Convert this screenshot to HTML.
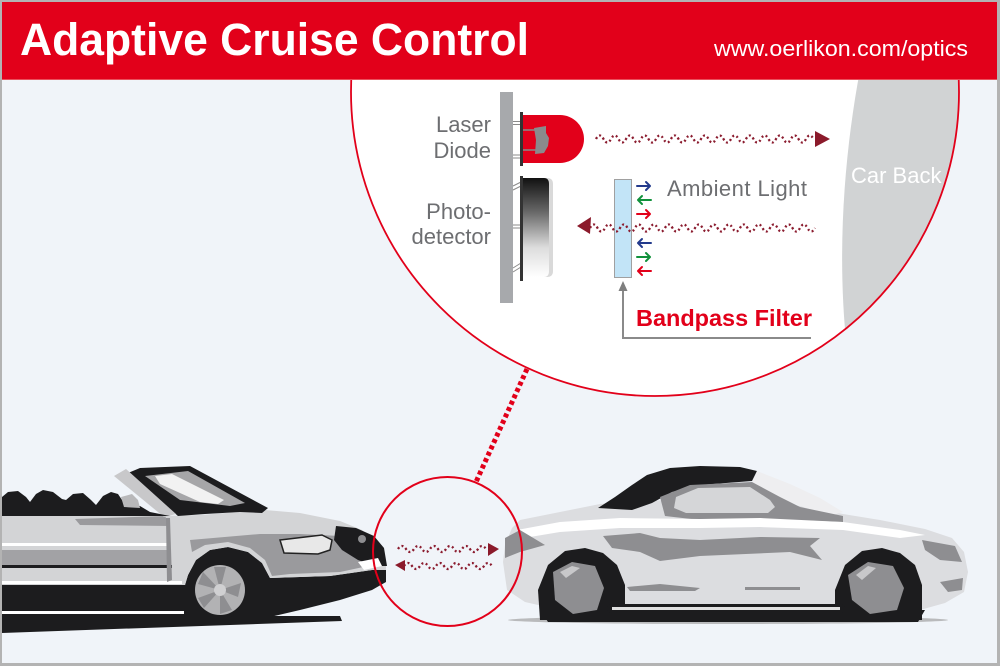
<!DOCTYPE html>
<html><head><meta charset="utf-8"><style>
html,body{margin:0;padding:0;background:#b3b3b3;}
svg{display:block;}
text{font-family:"Liberation Sans",Arial,sans-serif;}
</style></head><body>
<svg width="1000" height="666" viewBox="0 0 1000 666" xmlns="http://www.w3.org/2000/svg">
<defs>
<clipPath id="bigc"><circle cx="655" cy="92" r="304"/></clipPath>
<clipPath id="inner"><rect x="2" y="2" width="995" height="661"/></clipPath>
<linearGradient id="pd" x1="0" y1="0" x2="0" y2="1">
<stop offset="0" stop-color="#111111"/><stop offset="0.35" stop-color="#6a6a6a"/><stop offset="0.7" stop-color="#dcdcdc"/><stop offset="1" stop-color="#ffffff"/>
</linearGradient>
</defs>
<rect x="0" y="0" width="1000" height="666" fill="#f0f4f9"/>

<g clip-path="url(#inner)">
<!-- big circle -->
<circle cx="655" cy="92" r="304" fill="#ffffff"/>
<path clip-path="url(#bigc)" d="M860,70 C845,150 836,250 847,350 L1000,350 L1000,70 Z" fill="#d1d3d4"/>
<circle cx="655" cy="92" r="304" fill="none" stroke="#e2001a" stroke-width="1.8"/>

<!-- header -->
<rect x="0" y="0" width="1000" height="80" fill="#e2001a"/>
<rect x="0" y="79" width="1000" height="1" fill="#e9505c"/>
<text x="20" y="55" font-size="45" font-weight="bold" fill="#ffffff" textLength="509" lengthAdjust="spacingAndGlyphs">Adaptive Cruise Control</text>
<text x="714" y="56" font-size="22.5" fill="#ffffff" textLength="254" lengthAdjust="spacingAndGlyphs">www.oerlikon.com/optics</text>
</g>

<!-- Car back label -->
<text x="851" y="183" font-size="22" fill="#ffffff">Car Back</text>

<!-- board -->
<rect x="500" y="92" width="13" height="211" fill="#a7a9ac"/>

<!-- laser pins -->
<g stroke="#8a8a8a" stroke-width="1" fill="none">
<line x1="513" y1="121.5" x2="521" y2="121.5"/><line x1="513" y1="124.5" x2="521" y2="124.5"/>
<line x1="513" y1="155" x2="521" y2="155"/><line x1="513" y1="158" x2="521" y2="158"/>
</g>
<rect x="520" y="112" width="3" height="54" fill="#333"/>
<path d="M523,115 H560 A24,24 0 0 1 560,163 H523 Z" fill="#e2001a"/>
<g stroke="#8a8a8a" stroke-width="1.5"><line x1="523" y1="130" x2="536" y2="130"/><line x1="523" y1="150" x2="536" y2="150"/></g>
<polygon points="534,128 546,126 546,133 549,138 548,146 544,153 535,154 536,140" fill="#8a8a8c"/>

<!-- photodetector -->
<g stroke="#8a8a8a" stroke-width="1" fill="none">
<line x1="513" y1="186" x2="521" y2="182"/><line x1="513" y1="190" x2="521" y2="186"/>
<line x1="513" y1="225" x2="521" y2="225"/><line x1="513" y1="228" x2="521" y2="228"/>
<line x1="513" y1="268" x2="521" y2="263"/><line x1="513" y1="272" x2="521" y2="267"/>
</g>
<rect x="520" y="176" width="3" height="105" fill="#333"/>
<path d="M523,178 H547 Q553,178 553,184 V271 Q553,277 547,277 H523 Z" fill="#d9d9d9"/>
<path d="M523,178 H544 Q549,178 549,184 V271 Q549,277 544,277 H523 Z" fill="url(#pd)"/>

<!-- labels -->
<g font-size="22" fill="#6d6e71" text-anchor="end">
<text x="491" y="132">Laser</text>
<text x="491" y="158">Diode</text>
<text x="491" y="219">Photo-</text>
<text x="491" y="244">detector</text>
</g>
<text x="667" y="196" font-size="22" fill="#6d6e71" textLength="140" lengthAdjust="spacing">Ambient Light</text>

<!-- outgoing wave -->
<path d="M596,139 q3.75,-7 7.5,0 t7.5,0 t7.5,0 t7.5,0 t7.5,0 t7.5,0 t7.5,0 t7.5,0 t7.5,0 t7.5,0 t7.5,0 t7.5,0 t7.5,0 t7.5,0 t7.5,0 t7.5,0 t7.5,0 t7.5,0 t7.5,0 t7.5,0 t7.5,0 t7.5,0 t7.5,0 t7.5,0 t7.5,0 t7.5,0 t7.5,0 t7.5,0 t7.5,0" fill="none" stroke="#8b1c2f" stroke-width="2.3" stroke-dasharray="2 2.6"/>
<polygon points="815,131 830,139 815,147" fill="#8b1a2b"/>

<!-- filter -->
<rect x="614.5" y="179.5" width="17" height="98" fill="#c2e4f7" stroke="#a0a0a0" stroke-width="1"/>

<!-- returning wave -->
<path d="M590,228 q3.75,-7 7.5,0 t7.5,0 t7.5,0 t7.5,0 t7.5,0 t7.5,0 t7.5,0 t7.5,0 t7.5,0 t7.5,0 t7.5,0 t7.5,0 t7.5,0 t7.5,0 t7.5,0 t7.5,0 t7.5,0 t7.5,0 t7.5,0 t7.5,0 t7.5,0 t7.5,0 t7.5,0 t7.5,0 t7.5,0 t7.5,0 t7.5,0 t7.5,0 t7.5,0 t7.5,0" fill="none" stroke="#8b1c2f" stroke-width="2.3" stroke-dasharray="2 2.6"/>
<polygon points="577,226 591,217 590,234" fill="#8b1a2b"/>

<!-- ambient arrows -->
<g fill="none" stroke-width="2" stroke-linecap="round" stroke-linejoin="round">
<g stroke="#233a8c"><path d="M637,186 H650 M646,182 L650,186 L646,190"/></g>
<g stroke="#11913b"><path d="M651,200 H638 M642,196 L638,200 L642,204"/></g>
<g stroke="#e2001a"><path d="M637,214 H650 M646,210 L650,214 L646,218"/></g>
<g stroke="#233a8c"><path d="M651,243 H638 M642,239 L638,243 L642,247"/></g>
<g stroke="#11913b"><path d="M637,257 H650 M646,253 L650,257 L646,261"/></g>
<g stroke="#e2001a"><path d="M651,271 H638 M642,267 L638,271 L642,275"/></g>
</g>

<!-- bandpass pointer -->
<path d="M623,290 V338 H811" fill="none" stroke="#8a8a8a" stroke-width="2"/>
<polygon points="623,281 618.5,291 627.5,291" fill="#7f7f7f"/>
<text x="636" y="326" font-size="23.5" font-weight="bold" fill="#e2001a" textLength="176" lengthAdjust="spacing">Bandpass Filter</text>

<!-- connector -->
<line x1="527" y1="369" x2="476" y2="482" stroke="#e2001a" stroke-width="5" stroke-dasharray="4 3"/>

<!-- LEFT CAR -->
<g>
<polygon points="2,616 340,616 342,621 2,633" fill="#1c1c1e"/>
<polygon points="2,585 185,585 188,575 196,560 210,550 228,547 248,552 262,563 270,578 330,576 372,570 386,568 386,582 372,590 340,600 300,610 270,617 2,617" fill="#1c1c1e"/>
<rect x="2" y="611" width="182" height="3" fill="#ffffff"/>
<polygon points="2,514 120,513 160,516 200,515 265,510 300,513 340,521 362,530 378,545 386,560 386,570 372,570 330,576 270,578 262,563 248,552 228,547 210,550 196,560 188,575 185,585 2,585" fill="#d3d4d6"/>
<polygon points="2,550 168,550 170,565 2,565" fill="#a2a2a5"/>
<rect x="2" y="543" width="165" height="3" fill="#ffffff"/>
<rect x="2" y="565" width="170" height="3" fill="#1c1c1e"/>
<rect x="2" y="581" width="180" height="3" fill="#ffffff"/>
<polygon points="75,519 165,516 170,526 80,525" fill="#9a9a9d"/>
<polygon points="166,518 170,518 172,580 167,582" fill="#8e8e91"/>
<polygon points="190,540 260,534 300,534 340,536 362,542 372,555 368,566 340,572 290,574 272,576 265,560 250,548 228,542 205,545 192,552" fill="#9a9a9d"/>
<polygon points="280,540 322,535 332,540 330,550 318,554 284,553" fill="#e8e8e8" stroke="#222" stroke-width="1.5"/>
<polygon points="336,526 356,528 374,536 384,548 387,566 375,566 358,560 342,550 334,540" fill="#1c1c1e"/>
<circle cx="362" cy="539" r="4" fill="#8e8e91"/>
<polygon points="358,562 378,558 382,566 364,570" fill="#ffffff"/>
<circle cx="220" cy="590" r="29" fill="#1c1c1e"/>
<circle cx="220" cy="590" r="25" fill="#b2b2b4"/>
<g fill="#8e8e91">
<polygon points="220,590 214,567 226,567"/>
<polygon points="220,590 241,583 238,597"/>
<polygon points="220,590 232,610 220,614"/>
<polygon points="220,590 204,608 198,598"/>
<polygon points="220,590 198,584 203,572"/>
</g>
<circle cx="220" cy="590" r="6" fill="#d0d0d2"/>
<polygon points="128,473 140,468 190,466 268,508 262,513 240,512 205,514 178,516" fill="#1c1c1e"/>
<polygon points="145,476 188,471 245,503 230,506 180,500" fill="#a6a6a8"/>
<polygon points="155,476 172,474 224,500 218,504 200,502 160,484" fill="#f2f2f2"/>
<polygon points="114,476 126,469 176,514 164,517" fill="#c8c8ca"/>
<polygon points="2,497 8,492 18,491 26,497 30,502 36,494 43,490 53,492 62,499 66,500 73,494 83,493 91,500 96,505 103,496 111,492 118,494 122,500 125,505 140,506 150,512 170,516 2,516" fill="#1c1c1e"/>
<polygon points="121,497 132,494 138,500 140,508 124,507" fill="#b8b8ba"/>
</g>

<!-- RIGHT CAR -->
<g>
<ellipse cx="728" cy="620" rx="220" ry="4" fill="#b9babc"/>
<polygon points="540,610 925,610 918,622 548,622" fill="#1c1c1e"/>
<polygon points="503,562 505,545 512,528 520,520 560,512 600,504 640,501 700,499 757,500 800,506 843,514 880,520 925,529 952,538 964,552 968,572 964,592 945,603 920,610 860,612 620,612 560,610 525,602 507,590" fill="#dcdde0"/>
<polygon points="598,508 615,497 632,485 647,475 670,468 700,466 740,467 757,471 752,481 700,485 672,492 652,503 632,510" fill="#1c1c1e"/>
<polygon points="757,471 790,484 820,498 843,512 830,516 800,506 770,495 752,482" fill="#eeeef0"/>
<polygon points="660,497 690,485 752,482 780,497 800,507 843,516 843,522 790,520 700,520 665,516" fill="#8e8e91"/>
<polygon points="676,497 698,488 750,487 770,500 775,507 768,513 686,513 674,508" fill="#d5d6d8"/>
<polygon points="517,530 560,522 620,518 700,519 760,518 843,522 900,530 925,535 900,538 843,530 760,527 700,528 620,528 560,532 530,537" fill="#ffffff"/>
<polygon points="603,536 640,533 660,538 700,540 760,537 820,538 810,546 822,560 790,552 700,556 660,561 640,552 612,548" fill="#8e8e91"/>
<polygon points="627,587 660,584 700,588 695,591 630,591" fill="#8e8e91"/>
<polygon points="745,587 800,587 800,590 745,590" fill="#8e8e91"/>
<polygon points="505,538 520,530 545,545 520,552 505,558" fill="#8e8e91"/>
<polygon points="922,540 955,546 962,562 940,560 925,550" fill="#8e8e91"/>
<polygon points="940,582 963,578 962,590 948,592" fill="#8e8e91"/>
<polygon points="540,620 538,590 548,565 565,551 585,548 603,553 617,565 625,585 625,620" fill="#1c1c1e"/>
<polygon points="835,620 835,590 845,565 862,551 882,548 900,553 915,565 922,585 922,620" fill="#1c1c1e"/>
<polygon points="553,572 572,562 595,566 604,588 597,610 573,614 555,600" fill="#8e8e91"/>
<polygon points="848,575 868,562 893,566 904,588 897,610 870,614 852,600" fill="#8e8e91"/>
<polygon points="560,572 572,566 580,568 566,578" fill="#c8c8ca"/>
<polygon points="856,575 868,566 876,568 862,580" fill="#c8c8ca"/>
<rect x="607" y="604" width="238" height="9" rx="4" fill="#1c1c1e"/>
<rect x="612" y="607" width="228" height="3" fill="#e0e0e0"/>
</g>

<!-- small circle waves -->
<path d="M398,549 q4,-6 8,0 t8,0 t8,0 t8,0 t8,0 t8,0 t8,0 t8,0 t8,0 t8,0 t8,0" fill="none" stroke="#8b1c2f" stroke-width="2.3" stroke-dasharray="2 2.6"/>
<polygon points="488,543 499,549 488,556" fill="#8b1a2b"/>
<path d="M404,566 q4,-6 8,0 t8,0 t8,0 t8,0 t8,0 t8,0 t8,0 t8,0 t8,0 t8,0 t8,0" fill="none" stroke="#8b1c2f" stroke-width="2.3" stroke-dasharray="2 2.6"/>
<polygon points="395,565 405,560 405,571" fill="#8b1a2b"/>

<circle cx="447.5" cy="551.5" r="74.5" fill="none" stroke="#e2001a" stroke-width="2"/>

<!-- frame -->
<path d="M0,0 H1000 V666 H0 Z M2,2 V663 H997 V2 Z" fill="#b3b3b3" fill-rule="evenodd"/>
</svg>
</body></html>
